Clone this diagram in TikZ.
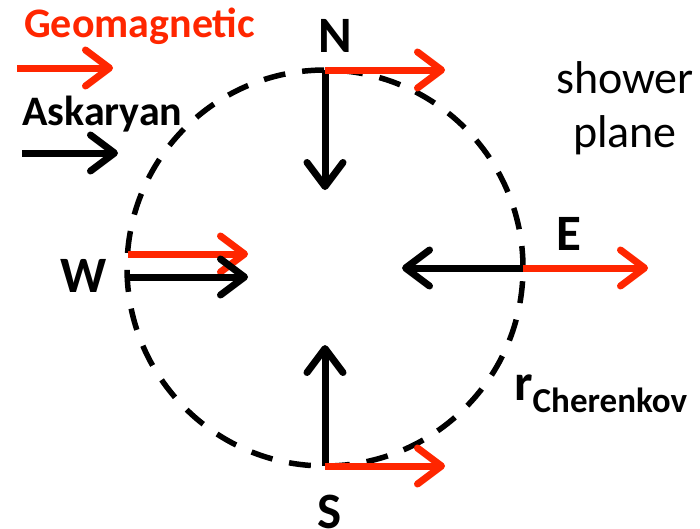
\documentclass[tikz,border=0pt]{standalone}
\usepackage{fontspec}
\setmainfont{Carlito}
\usetikzlibrary{arrows.meta}
\definecolor{geoRed}{RGB}{255,38,0}

\tikzset{
  field/.style={line width=7pt, -{Straight Barb[length=24pt,width=36pt,line cap=round,line join=round]}},
  compass/.style={font=\fontsize{51}{56}\selectfont\bfseries, inner sep=0pt, anchor=base},
  legendtxt/.style={font=\fontsize{42}{48}\selectfont\bfseries, inner sep=0pt, anchor=base west},
}

\begin{document}
\begin{tikzpicture}[x=1pt,y=-1pt]
  \useasboundingbox (0,0) rectangle (700,528);

  % Cherenkov ring
  \node[circle, draw, line width=5.5pt, dash pattern=on 22pt off 17pt,
        minimum size=396pt, inner sep=0pt, outer sep=0pt] (ring) at (325,268) {};

  % Legend
  \node[legendtxt, text=geoRed] (geoTxt) at (24,37) {Geomagnetic};
  \coordinate (geoA) at (17,68);
  \coordinate (geoB) at (113,68);
  \draw[field, geoRed] (geoA) -- (geoB);
  \node[legendtxt] (askTxt) at (22,125) {Askaryan};
  \coordinate (askA) at (22,153);
  \coordinate (askB) at (118,153);
  \draw[field] (askA) -- (askB);

  % North
  \coordinate (nRed) at (445,70);
  \coordinate (nBlack) at (325,190);
  \draw[field] (ring.north) -- (nBlack);
  \draw[field, geoRed] (ring.north) -- (nRed);
  \node[compass] (nLbl) at (335,52) {N};

  % West
  \coordinate (wRedA) at (128,254);
  \coordinate (wRedB) at (248,254);
  \coordinate (wBlackA) at (128,277);
  \coordinate (wBlackB) at (248,277);
  \draw[field, geoRed] (wRedA) -- (wRedB);
  \draw[field] (wBlackA) -- (wBlackB);
  \node[compass] (wLbl) at (84,292) {W};

  % East
  \coordinate (eBlack) at (402,268);
  \coordinate (eRed) at (648,268);
  \draw[field] (ring.east) -- (eBlack);
  \draw[field, geoRed] (ring.east) -- (eRed);
  \node[compass] (eLbl) at (569,250) {E};

  % South
  \coordinate (sBlack) at (325,345);
  \coordinate (sRed) at (445,466);
  \draw[field] (ring.south) -- (sBlack);
  \draw[field, geoRed] (ring.south) -- (sRed);
  \node[compass] (sLbl) at (330,528) {S};

  % Labels
  \node[font=\fontsize{46}{52}\selectfont, inner sep=0pt, anchor=base] (shower) at (625,93) {shower};
  \node[font=\fontsize{46}{52}\selectfont, inner sep=0pt, anchor=base] (plane) at (625,147) {plane};
  \node[font=\fontsize{52}{58}\selectfont\bfseries, inner sep=0pt, anchor=base west] (rLbl) at (514,400)
    {r\raisebox{-12pt}{\fontsize{35}{40}\selectfont Cherenkov}};
\end{tikzpicture}
\end{document}
